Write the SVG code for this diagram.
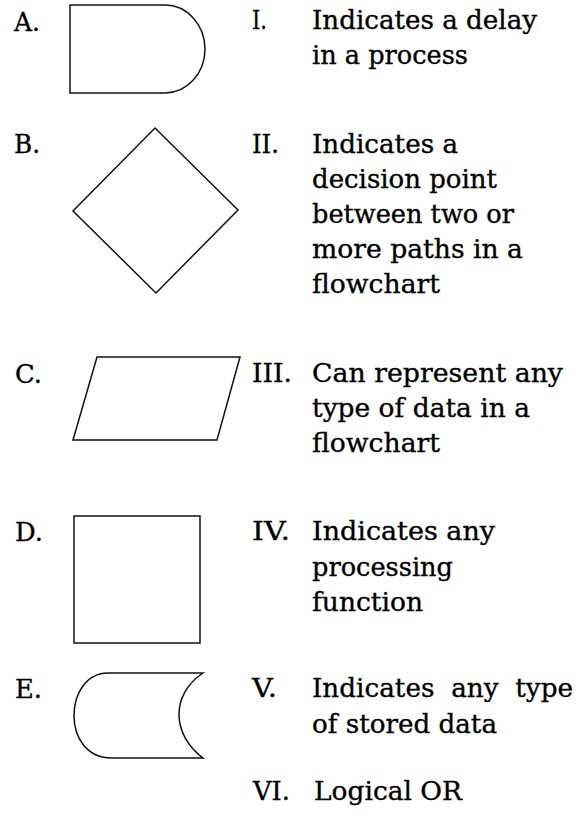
<svg xmlns="http://www.w3.org/2000/svg" width="588" height="818" viewBox="0 0 588 818">
<style>
  .shape { fill: none; stroke: #111; stroke-width: 1.5; stroke-linejoin: miter; }
  .t { font-family: "DejaVu Serif", "Liberation Serif", serif; font-size: 26px; fill: #000; stroke: #000; stroke-width: 0.35; }
</style>
<rect x="0" y="0" width="588" height="818" fill="#ffffff"/>
<g id="connectors"></g>

<g id="node-A">
  <text class="t" x="14" y="31" textLength="26" lengthAdjust="spacingAndGlyphs">A.</text>
  <path class="shape" d="M70,5 H165 A40,44 0 0 1 165,93 H70 Z" stroke-width="1.3"/>
</g>
<g id="node-B">
  <text class="t" x="14" y="153" textLength="26" lengthAdjust="spacingAndGlyphs">B.</text>
  <path class="shape" d="M155,128 L238,210 L156,293 L73,211 Z" stroke-width="1.7"/>
</g>
<g id="node-C">
  <text class="t" x="15" y="383" textLength="27" lengthAdjust="spacingAndGlyphs">C.</text>
  <path class="shape" d="M97,357 L240,357 L217,440 L73,440 Z" stroke-width="1.6"/>
</g>
<g id="node-D">
  <text class="t" x="15" y="541" textLength="28" lengthAdjust="spacingAndGlyphs">D.</text>
  <rect class="shape" x="74" y="516" width="126" height="127"/>
</g>
<g id="node-E">
  <text class="t" x="15" y="698" textLength="27" lengthAdjust="spacingAndGlyphs">E.</text>
  <path class="shape" d="M203,673 H108 C64,673 60,758 112,758 H203 C172,735 170,695 203,673 Z" stroke-width="1.2"/>
</g>

<g id="desc-I">
  <text class="t" x="252" y="29" textLength="15" lengthAdjust="spacingAndGlyphs">I.</text>
  <text class="t" x="312" y="29" textLength="225" lengthAdjust="spacingAndGlyphs">Indicates a delay</text>
  <text class="t" x="312" y="64" textLength="156" lengthAdjust="spacingAndGlyphs">in a process</text>
</g>
<g id="desc-II">
  <text class="t" x="252" y="153" textLength="27" lengthAdjust="spacingAndGlyphs">II.</text>
  <text class="t" x="312" y="153" textLength="146" lengthAdjust="spacingAndGlyphs">Indicates a</text>
  <text class="t" x="312" y="188" textLength="185" lengthAdjust="spacingAndGlyphs">decision point</text>
  <text class="t" x="312" y="223" textLength="202" lengthAdjust="spacingAndGlyphs">between two or</text>
  <text class="t" x="312" y="258" textLength="211" lengthAdjust="spacingAndGlyphs">more paths in a</text>
  <text class="t" x="312" y="293" textLength="128" lengthAdjust="spacingAndGlyphs">flowchart</text>
</g>
<g id="desc-III">
  <text class="t" x="252" y="382" textLength="40" lengthAdjust="spacingAndGlyphs">III.</text>
  <text class="t" x="312" y="382" textLength="251" lengthAdjust="spacingAndGlyphs">Can represent any</text>
  <text class="t" x="312" y="417" textLength="218" lengthAdjust="spacingAndGlyphs">type of data in a</text>
  <text class="t" x="312" y="452" textLength="128" lengthAdjust="spacingAndGlyphs">flowchart</text>
</g>
<g id="desc-IV">
  <text class="t" x="252" y="540" textLength="38" lengthAdjust="spacingAndGlyphs">IV.</text>
  <text class="t" x="312" y="540" textLength="183" lengthAdjust="spacingAndGlyphs">Indicates any</text>
  <text class="t" x="312" y="576" textLength="141" lengthAdjust="spacingAndGlyphs">processing</text>
  <text class="t" x="312" y="611" textLength="111" lengthAdjust="spacingAndGlyphs">function</text>
</g>
<g id="desc-V">
  <text class="t" x="252" y="697" textLength="25" lengthAdjust="spacingAndGlyphs">V.</text>
  <text class="t" x="312" y="697" textLength="261" lengthAdjust="spacingAndGlyphs" xml:space="preserve">Indicates  any  type</text>
  <text class="t" x="312" y="733" textLength="185" lengthAdjust="spacingAndGlyphs">of stored data</text>
</g>
<g id="desc-VI">
  <text class="t" x="253" y="800" textLength="37" lengthAdjust="spacingAndGlyphs">VI.</text>
  <text class="t" x="314" y="800" textLength="148" lengthAdjust="spacingAndGlyphs">Logical OR</text>
</g>
</svg>
